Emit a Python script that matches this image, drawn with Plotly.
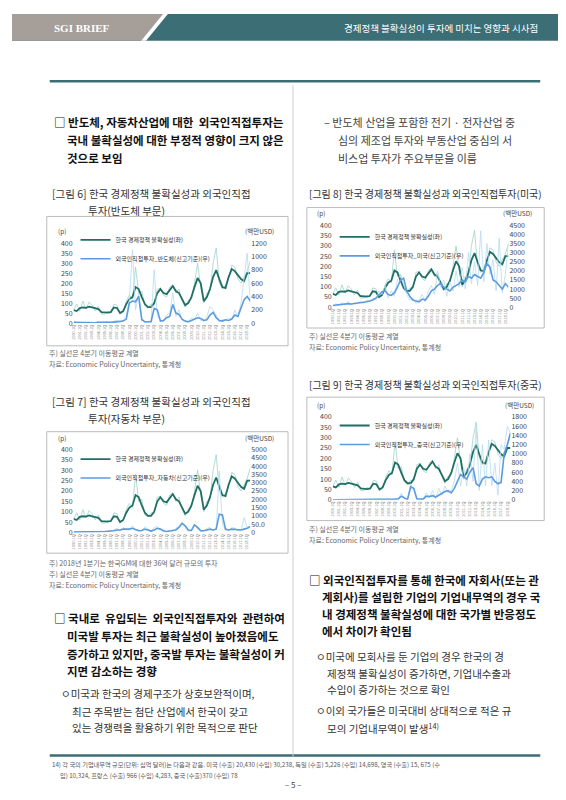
import plotly.graph_objects as go

W, H = 566, 800
def px(x): return x / W
def py(y): return 1 - y / H

years = list(range(1990, 2019))
periods = [f"{y}.{h}" for y in years for h in ("1Q", "3Q")]

epu_raw = [65,95, 60,110, 70,105, 90,60, 85,45, 45,60, 50,95, 90,45, 55,110, 140,120, 280,150, 160,85, 75,95, 90,170,
           175,140, 130,180, 190,150, 170,110, 80,115, 120,200, 300,180, 100,150, 160,300, 375,200, 170,190, 220,290,
           280,220, 200,230, 260,310]
epu_ma = [65,60, 75,78, 76,82, 78,74, 70,55, 52,52, 55,78, 75,50, 60,95, 120,130, 180,170, 130,95, 80,80, 100,150,
          170,150, 145,165, 185,160, 150,120, 90,100, 130,180, 225,200, 110,130, 170,230, 265,220, 180,175, 230,270,
          260,240, 220,210, 250,250]

semi_raw = [20,5,0,10,5,15,0,10,20,5,15,25,5,30,40,10,50,100, 350,1100, 200,450, 80,5, 10,40, 800,100, 50,20, 120,150,
            450,100, 200,40, 20,10, 80,50, 150,40, 30,100, 250,200, 120,20, 60,40, 80,50, 200,90, 300,700, 1050,300]
semi_ma = [10,8,5,5,5,8,5,5,10,8,10,12,10,15,20,15,30,60, 300,330, 320,400, 50,20, 15,20, 220,200, 30,40, 80,100,
           280,150, 130,60, 30,20, 40,60, 80,70, 40,50, 120,160, 80,40, 30,50, 40,60, 120,100, 230,350, 400,330]

auto_raw = [10,50,20,60,10,50,20,60,30,80,40,120,60,150,250,100,300,150, 150,400, 100,150, 80,350, 200,50, 300,350,
            150,50, 40,120, 80,250, 400,600, 300,80, 100,500, 200,80, 80,250, 300,100, 250,3700, 500,150, 100,300,
            250,100, 100,900, 300,400]
auto_ma = [20,20,30,30,20,30,20,30,40,50,60,70,80,100,150,150,200,180, 200,250, 150,100, 120,200, 150,80, 150,250,
           200,100, 60,80, 100,150, 300,550, 400,150, 120,450, 300,100, 100,150, 200,150, 200,1100, 1050,200, 150,200,
           180,150, 150,200, 250,350]

us_raw = [50,200,100,250,100,300,150,250,200,350,200,400,300,500,400,900,700,1200, 500,900, 600,1500, 1800,1200,
          700,400, 500,200, 400,700, 300,900, 1200,700, 2000,1100, 1500,600, 1400,900, 2000,1100, 2200,1000, 3000,1300,
          2500,1200, 4200,1400, 3500,1800, 2600,900, 3800,800, 1800,3500]
us_ma = [100,120,150,150,170,200,180,200,220,250,280,300,350,400,500,700,850,900, 700,650, 800,1100, 1500,1600,
         900,600, 400,350, 300,450, 400,600, 900,1000, 1200,1300, 1100,1000, 900,1100, 1200,1300, 1500,1400, 1700,1600,
         1800,1700, 1600,1900, 2400,2200, 1500,1400, 1200,1000, 1300,1100]

cn_raw = [0,0,0,0,0,0,0,0,0,0,10,0,10,5,0,20,10,20, 20,10, 30,10, 150,20, 5,350, 200,10, 30,10, 150,50, 200,30,
          250,100, 300,150, 200,400, 800,300, 700,300, 1000,400, 1600,200, 1200,300, 1300,300, 800,100, 1200,1100, 1600,1450]
cn_ma = [0,0,0,0,0,0,0,0,0,0,5,5,5,5,5,10,10,10, 10,15, 15,20, 80,40, 10,280, 250,20, 10,15, 80,70, 90,60,
         100,150, 180,200, 150,250, 400,550, 500,450, 600,700, 350,300, 450,500, 480,500, 400,350, 380,1000, 1200,1450]

charts = [
    dict(box=(35, 205, 278, 336), plot=(62, 232, 240, 313), raw=semi_raw, ma=semi_ma, rmax=1200,
         rticks=[0,200,400,600,800,1000,1200], rtext=None, name="외국인직접투자_반도체(신고기준)(우)", leg=(64, 214)),
    dict(box=(297, 196, 536, 318), plot=(323, 214, 500, 297), raw=us_raw, ma=us_ma, rmax=4500,
         rticks=list(range(0, 4501, 500)), rtext=None, name="외국인직접투자_미국(신고기준)(우)", leg=(325, 211)),
    dict(box=(35, 423, 278, 546), plot=(62, 441, 240, 525), raw=auto_raw, ma=auto_ma, rmax=5000,
         rticks=list(range(0, 5001, 500)),
         rtext=["0","50.0","1000","1500","2000","2500","3000","3500","4000","4500","5000"],
         name="외국인직접투자_자동차(신고기준)(우)", leg=(64, 436)),
    dict(box=(297, 388, 536, 513), plot=(323, 408, 502, 492), raw=cn_raw, ma=cn_ma, rmax=1800,
         rticks=list(range(0, 1801, 200)), rtext=None, name="외국인직접투자_중국(신고기준)(우)", leg=(325, 402)),
]

KR = "Noto Sans CJK KR"
fig = go.Figure()
shapes, ann = [], []
layout = {}
tickvals = periods[::2]
for i, c in enumerate(charts):
    n = i + 1
    xa = f"x{'' if n == 1 else n}"
    yl = 2 * n - 1
    yr = 2 * n
    yla = f"y{'' if yl == 1 else yl}"
    yra = f"y{yr}"
    lg = "legend" if n == 1 else f"legend{n}"
    x0, y0, x1, y1 = c["plot"]
    fig.add_trace(go.Scatter(x=periods, y=epu_raw, xaxis=xa, yaxis=yla, mode="lines",
                             line=dict(color="#9fd3ca", width=0.8), showlegend=False, hoverinfo="skip"))
    fig.add_trace(go.Scatter(x=periods, y=c["raw"], xaxis=xa, yaxis=yra, mode="lines",
                             line=dict(color="#b5dcf0", width=0.8), showlegend=False, hoverinfo="skip"))
    fig.add_trace(go.Scatter(x=periods, y=c["ma"], xaxis=xa, yaxis=yra, mode="lines", name=c["name"],
                             line=dict(color="#5b9be0", width=1.6), legend=lg, legendrank=2))
    fig.add_trace(go.Scatter(x=periods, y=epu_ma, xaxis=xa, yaxis=yla, mode="lines", name="한국 경제정책 불확실성(좌)",
                             line=dict(color="#1f6f66", width=1.8), legend=lg, legendrank=1))
    xk = "xaxis" if n == 1 else f"xaxis{n}"
    layout[xk] = dict(domain=[px(x0), px(x1)], anchor=yla, showgrid=False, showline=False,
                      tickmode="array", tickvals=tickvals, tickangle=-90,
                      tickfont=dict(size=4, color="#888"), ticks="", zeroline=False)
    ylk = "yaxis" if yl == 1 else f"yaxis{yl}"
    layout[ylk] = dict(domain=[py(y1), py(y0)], anchor=xa, range=[0, 400], tickvals=list(range(0, 401, 50)),
                       showgrid=False, zeroline=False, tickfont=dict(size=7, color="#444"), ticks="")
    rt = dict(domain=[py(y1), py(y0)], anchor=xa, overlaying=yla, side="right", range=[0, c["rmax"]],
              tickvals=c["rticks"], showgrid=False, zeroline=False, tickfont=dict(size=7, color="#444"), ticks="")
    if c["rtext"]:
        rt["ticktext"] = c["rtext"]
    layout[f"yaxis{yr}"] = rt
    layout[lg] = dict(x=px(c["leg"][0]), y=py(c["leg"][1]), xanchor="left", yanchor="top",
                      bgcolor="rgba(0,0,0,0)", font=dict(size=6, color="#333", family=KR),
                      tracegroupgap=0, itemwidth=30, traceorder="normal")
    bx0, by0, bx1, by1 = c["box"]
    shapes.append(dict(type="rect", xref="paper", yref="paper", x0=px(bx0), x1=px(bx1), y0=py(by1), y1=py(by0),
                       line=dict(color="#bbbbbb", width=1), fillcolor="rgba(0,0,0,0)"))
    ann.append(dict(xref="paper", yref="paper", x=px(x0 - 6), y=py(y0 - 5), text="(p)", showarrow=False,
                    xanchor="right", yanchor="bottom", font=dict(size=6.5, color="#444")))
    ann.append(dict(xref="paper", yref="paper", x=px(x1 + 26), y=py(y0 - 5), text="(백만USD)", showarrow=False,
                    xanchor="right", yanchor="bottom", font=dict(size=6.5, color="#444")))

shapes += [
    dict(type="rect", xref="paper", yref="paper", x0=0, x1=1, y0=py(27), y1=1, fillcolor="#3b6e75", line_width=0, layer="below"),
    dict(type="path", xref="paper", yref="paper",
         path=f"M 0 1 L {px(152)} 1 L {px(130)} {py(27)} L 0 {py(27)} Z", fillcolor="#a59e99", line_width=0, layer="below"),
    dict(type="path", xref="paper", yref="paper",
         path=f"M {px(152)} 1 L {px(157)} 1 L {px(135)} {py(27)} L {px(130)} {py(27)} Z", fillcolor="white", line_width=0, layer="below"),
    dict(type="line", xref="paper", yref="paper", x0=px(38), x1=px(532), y0=py(68), y1=py(68), line=dict(color="#3b6e75", width=2.5)),
    dict(type="line", xref="paper", yref="paper", x0=px(38), x1=px(532), y0=py(751), y1=py(751), line=dict(color="#3b6e75", width=2.5)),
    dict(type="line", xref="paper", yref="paper", x0=px(283), x1=px(283), y0=py(752), y1=py(72), line=dict(color="#cccccc", width=1)),
]

def t(x, y, s, size=11.5, color="#222", bold=False, anchor="left"):
    if bold:
        s = f"<b>{s}</b>"
    ann.append(dict(xref="paper", yref="paper", x=px(x), y=py(y), text=s, showarrow=False, xanchor=anchor,
                    yanchor="middle", font=dict(size=size, color=color, family=KR)))

ann.append(dict(xref="paper", yref="paper", x=px(40), y=py(14), text="<b>SGI BRIEF</b>", showarrow=False,
                xanchor="left", yanchor="middle", font=dict(size=11, color="white", family="Liberation Serif")))
t(532, 14, "경제정책 불확실성이 투자에 미치는 영향과 시사점", 9.5, "white", anchor="right")

t(40, 109, "□ 반도체, 자동차산업에 대한  외국인직접투자는", 11.5, "#111", True)
t(53, 128, "국내 불확실성에 대한 부정적 영향이 크지 않은", 11.5, "#111", True)
t(53, 146, "것으로 보임", 11.5, "#111", True)
t(312, 109, "– 반도체 산업을 포함한 전기 · 전자산업 중", 11, "#444")
t(326, 128, "심의 제조업 투자와 부동산업 중심의 서", 11, "#444")
t(326, 146, "비스업 투자가 주요부문을 이룸", 11, "#444")

t(38, 182, "[그림 6] 한국 경제정책 불확실성과 외국인직접", 10.5, "#333")
t(75, 199, "투자(반도체 부문)", 10.5, "#333")
t(297, 182, "[그림 8] 한국 경제정책 불확실성과 외국인직접투자(미국)", 10, "#333")
t(35, 343, "주) 실선은 4분기 이동평균 계열", 7, "#666")
t(35, 354, "자료: Economic Policy Uncertainty, 통계청", 7, "#666")
t(297, 326, "주) 실선은 4분기 이동평균 계열", 7, "#666")
t(297, 337, "자료: Economic Policy Uncertainty, 통계청", 7, "#666")
t(38, 392, "[그림 7] 한국 경제정책 불확실성과 외국인직접", 10.5, "#333")
t(75, 410, "투자(자동차 부문)", 10.5, "#333")
t(297, 375, "[그림 9] 한국 경제정책 불확실성과 외국인직접투자(중국)", 10, "#333")
t(297, 522, "주) 실선은 4분기 이동평균 계열", 7, "#666")
t(297, 533, "자료: Economic Policy Uncertainty, 통계청", 7, "#666")
t(35, 556, "주) 2018년 1분기는 한국GM에 대한 36억 달러 규모의 투자", 7, "#666")
t(35, 567, "주) 실선은 4분기 이동평균 계열", 7, "#666")
t(35, 578, "자료: Economic Policy Uncertainty, 통계청", 7, "#666")

t(40, 612, "□ 국내로  유입되는  외국인직접투자와  관련하여", 11.5, "#111", True)
t(53, 630, "미국발 투자는 최근 불확실성이 높아졌음에도", 11.5, "#111", True)
t(53, 648, "증가하고 있지만, 중국발 투자는 불확실성이 커", 11.5, "#111", True)
t(53, 665, "지면 감소하는 경향", 11.5, "#111", True)
t(47, 688, "ㅇ미국과 한국의 경제구조가 상호보완적이며,", 10.5, "#333")
t(58, 706, "최근 주목받는 첨단 산업에서 한국이 갖고", 10.5, "#333")
t(58, 723, "있는 경쟁력을 활용하기 위한 목적으로 판단", 10.5, "#333")

t(297, 573, "□ 외국인직접투자를 통해 한국에 자회사(또는 관", 11.5, "#111", True)
t(310, 590, "계회사)를 설립한 기업의 기업내무역의 경우 국", 11.5, "#111", True)
t(310, 608, "내 경제정책 불확실성에 대한 국가별 반응정도", 11.5, "#111", True)
t(310, 625, "에서 차이가 확인됨", 11.5, "#111", True)
t(304, 651, "ㅇ미국에 모회사를 둔 기업의 경우 한국의 경", 10.5, "#333")
t(315, 668, "제정책 불확실성이 증가하면, 기업내수출과", 10.5, "#333")
t(315, 684, "수입이 증가하는 것으로 확인", 10.5, "#333")
t(304, 705, "ㅇ이외 국가들은 미국대비 상대적으로 적은 규", 10.5, "#333")
t(315, 723, "모의 기업내무역이 발생<sup>14)</sup>", 10.5, "#333")

t(38, 760, "14) 각 국의 기업내무역 규모(단위: 십억 달러)는 다음과 같음. 미국 (수출) 20,430 (수입) 30,238, 독일 (수출) 5,226 (수입) 14,698, 영국 (수출) 15, 675 (수", 6.2, "#555")
t(46, 771, "입) 10,324, 프랑스 (수출) 966 (수입) 4,283, 중국 (수출)370 (수입) 78", 6.2, "#555")
t(283, 780, "– 5 –", 8, "#444", anchor="center")

fig.update_layout(width=W, height=H, margin=dict(l=0, r=0, t=0, b=0), paper_bgcolor="white",
                  plot_bgcolor="rgba(0,0,0,0)", shapes=shapes, annotations=ann,
                  font=dict(family=KR), **layout)
fig.write_html("out.html")
